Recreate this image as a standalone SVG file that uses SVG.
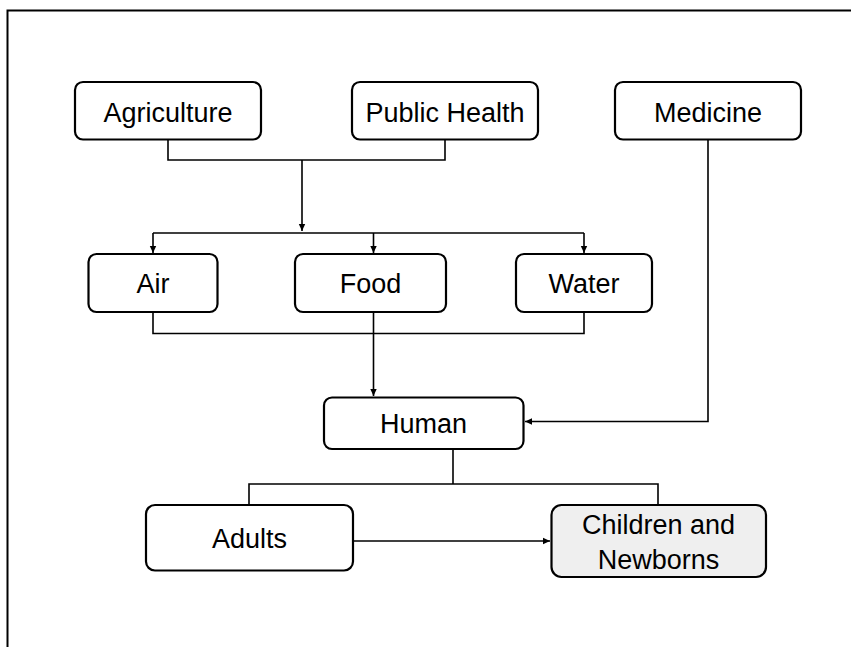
<svg xmlns="http://www.w3.org/2000/svg" width="851" height="647" viewBox="0 0 851 647">
<style>
.box{fill:#fff;stroke:#000;stroke-width:2.2}
.hl{fill:#efefef}
.lbl{font-family:"Liberation Sans",Arial,sans-serif;font-size:27px;fill:#000;text-anchor:middle}
.ln{fill:none;stroke:#000;stroke-width:1.6}
</style>
<defs>
<marker id="ah" markerWidth="8" markerHeight="8" refX="7" refY="4" orient="auto" markerUnits="userSpaceOnUse">
<path d="M0,0.8 L7,4 L0,7.2 Z" fill="#000"/>
</marker>
</defs>
<rect x="0" y="0" width="851" height="647" fill="#fff"/>
<path d="M7.5,647 V10.5 H851" fill="none" stroke="#000" stroke-width="2"/>
<g id="connectors">
<path class="ln" d="M168,140 V160 H445 V140"/>
<path class="ln" d="M302,160 V231" marker-end="url(#ah)"/>
<path class="ln" d="M153,233 H584"/>
<path class="ln" d="M153,233 V253" marker-end="url(#ah)"/>
<path class="ln" d="M373.5,233 V253" marker-end="url(#ah)"/>
<path class="ln" d="M584,233 V253" marker-end="url(#ah)"/>
<path class="ln" d="M153,312 V333.5 H584 V312"/>
<path class="ln" d="M373.5,312 V396" marker-end="url(#ah)"/>
<path class="ln" d="M708,140 V421.5 H525" marker-end="url(#ah)"/>
<path class="ln" d="M453,449 V484"/>
<path class="ln" d="M249,505 V484 H658 V505"/>
<path class="ln" d="M353,541 H550" marker-end="url(#ah)"/>
</g>
<g id="agriculture"><rect class="box" x="75" y="82" width="186" height="57.5" rx="8"/><text class="lbl" x="168" y="121.5">Agriculture</text></g>
<g id="public-health"><rect class="box" x="352" y="82" width="186" height="57.5" rx="8"/><text class="lbl" x="445" y="121.5">Public Health</text></g>
<g id="medicine"><rect class="box" x="615" y="82" width="186" height="57.5" rx="8"/><text class="lbl" x="708" y="121.5">Medicine</text></g>
<g id="air"><rect class="box" x="88.5" y="254" width="129" height="58" rx="8"/><text class="lbl" x="153" y="292.5">Air</text></g>
<g id="food"><rect class="box" x="295" y="254" width="151" height="58" rx="8"/><text class="lbl" x="370.5" y="292.5">Food</text></g>
<g id="water"><rect class="box" x="516" y="254" width="136" height="58" rx="8"/><text class="lbl" x="584" y="292.5">Water</text></g>
<g id="human"><rect class="box" x="324" y="397.5" width="199.5" height="51.5" rx="8"/><text class="lbl" x="423.5" y="433">Human</text></g>
<g id="adults"><rect class="box" x="146" y="505" width="207" height="65.5" rx="9"/><text class="lbl" x="249.5" y="548">Adults</text></g>
<g id="children"><rect class="box hl" x="551.5" y="505" width="214.5" height="72" rx="10"/><text class="lbl" x="658.5" y="534">Children and</text><text class="lbl" x="658.5" y="569">Newborns</text></g>
</svg>
